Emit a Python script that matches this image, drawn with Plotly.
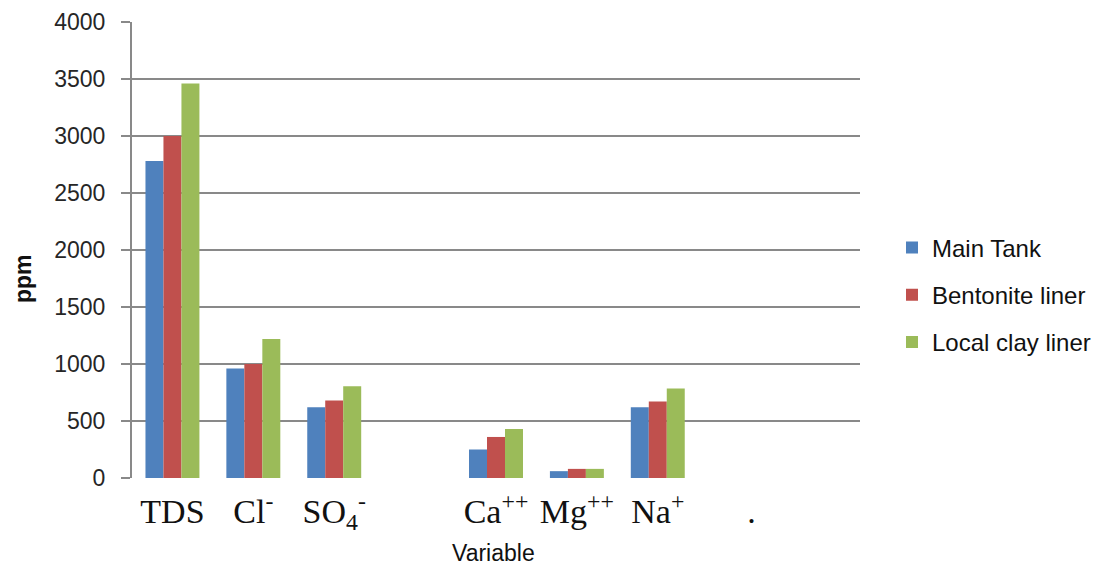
import plotly.graph_objects as go

categories = ["TDS", "Cl<sup>-</sup>", "SO<sub>4</sub><sup>-</sup>", "",
              "Ca<sup>++</sup>", "Mg<sup>++</sup>", "Na<sup>+</sup>", "&nbsp;&nbsp;&nbsp;.", ""]
main_tank = [2780, 960, 620, None, 250, 60, 620, None, None]
bentonite = [3000, 1000, 680, None, 360, 80, 670, None, None]
local_clay = [3460, 1220, 805, None, 430, 80, 785, None, None]
series_names = ["Main Tank", "Bentonite liner", "Local clay liner"]
colors = ["#4f81bd", "#c0504d", "#9bbb59"]

x = list(range(len(categories)))
fig = go.Figure()
for name, vals, col in zip(series_names, [main_tank, bentonite, local_clay], colors):
    fig.add_trace(go.Bar(x=x, y=vals, name=name, marker_color=col,
                         marker_line_width=0, legendgroup=name))

# page body has an 8px margin; figure is sized/positioned to compensate
OFF = 8
W, H = 1099 - OFF, 568 - OFF
ml, mt = 132 - OFF, 22 - OFF
pw, ph = 728, 456
mr = W - ml - pw
mb = H - mt - ph


def px_x(page_x):
    return (page_x - OFF - ml) / pw


def px_y(page_y):
    return (mt + ph - (page_y - OFF)) / ph


fig.update_layout(
    width=W, height=H,
    margin=dict(l=ml, r=mr, t=mt, b=mb, autoexpand=False),
    paper_bgcolor="white", plot_bgcolor="white",
    barmode="group", bargap=0.333, bargroupgap=0,
    font=dict(family="Liberation Sans, Arial", color="#222"),
    legend=dict(x=px_x(892), xanchor="left",
                y=px_y(295), yanchor="middle",
                font=dict(size=24, color="#111"), tracegroupgap=13,
                itemwidth=30),
    showlegend=True,
)
fig.update_xaxes(
    range=[-0.5, len(categories) - 0.5], automargin=False,
    tickmode="array", tickvals=x, ticktext=categories,
    tickfont=dict(family="Liberation Serif, Times New Roman", size=34, color="#111"),
    showgrid=False, zeroline=False, showline=False, ticks="",
    ticklabelstandoff=10,
)
fig.update_yaxes(
    range=[0, 4000], dtick=500, automargin=False,
    showgrid=True, gridcolor="#898989", gridwidth=1.6,
    zeroline=False, showline=True, linecolor="#898989", linewidth=2,
    ticks="outside", ticklen=9, tickcolor="#898989", tickwidth=1.6,
    ticklabelstandoff=11,
    tickfont=dict(family="Liberation Sans, Arial", size=23, color="#262626"),
)
fig.add_annotation(text="<b>ppm</b>", xref="paper", yref="paper",
                   x=px_x(23), y=px_y(279), xanchor="center", yanchor="middle",
                   showarrow=False, textangle=-90,
                   font=dict(family="Liberation Sans, Arial", size=23, color="#111"))
fig.add_annotation(text="Variable", xref="paper", yref="paper",
                   x=px_x(493), y=px_y(553), xanchor="center", yanchor="middle",
                   showarrow=False, borderpad=0,
                   font=dict(family="Liberation Sans, Arial", size=23, color="#111"))
fig.write_html("out.html")
